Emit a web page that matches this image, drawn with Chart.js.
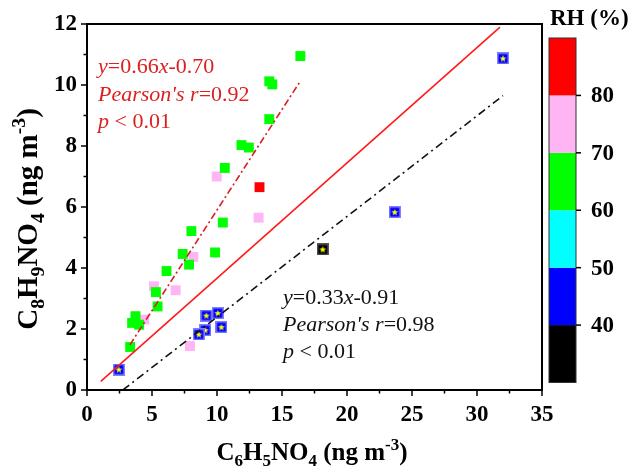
<!DOCTYPE html>
<html>
<head>
<meta charset="utf-8">
<script src="https://cdn.jsdelivr.net/npm/chart.js@4.4.0/dist/chart.umd.min.js"></script>
<style>
body { margin: 0; background: #fff; }
#wrap { width: 635px; height: 467px; }
</style>
</head>
<body>
<div id="wrap"><canvas id="chart" width="635" height="467"></canvas></div>
<script>
// points by RH class (x = C6H5NO4, y = C8H9NO4, ng m-3)
const greenX = [16.41, 14.02, 14.25, 14.02, 11.88, 12.45, 10.6, 10.45, 8.03, 7.36, 7.85, 9.85, 6.12, 5.3, 5.43, 3.73, 3.47, 4.01, 3.32];
const greenY = [10.95, 10.12, 10.02, 8.88, 8.03, 7.95, 7.28, 5.49, 5.21, 4.46, 4.11, 4.51, 3.9, 3.21, 2.74, 2.42, 2.2, 2.14, 1.41];
const pinkX = [9.98, 13.2, 8.18, 5.15, 6.82, 4.4, 7.92];
const pinkY = [7.0, 5.65, 4.36, 3.4, 3.27, 2.31, 1.44];
const redX = [13.27];
const redY = [6.65];
const blueX = [2.45, 9.18, 10.06, 9.1, 8.6, 10.34, 32.0, 23.67];
const blueY = [0.67, 2.44, 2.52, 1.96, 1.82, 2.06, 10.87, 5.83];
const blackX = [18.13];
const blackY = [4.61];

// fit lines, end points
const fitAllX = [1.06, 31.77];
const fitAllY = [0.28, 11.9];
const fitHighX = [3.3, 16.4];
const fitHighY = [1.48, 10.12];
const fitLowX = [2.76, 32.0];
const fitLowY = [0.0, 9.65];

// colour bar
const rhLevels = [30, 40, 50, 60, 70, 80, 90];
const rhColors = ['#000000', '#0000ff', '#00ffff', '#00ff00', '#ffb4f4', '#ff0000'];
const rhTicks = [40, 50, 60, 70, 80];

const xTicks = [0, 5, 10, 15, 20, 25, 30, 35];
const yTicks = [0, 2, 4, 6, 8, 10, 12];

const FONT = "'Liberation Serif', 'Times New Roman', serif";

function pts(xs, ys) {
    return xs.map((x, i) => ({ x: x, y: ys[i] }));
}

function starMarker(fill, edge) {
    const c = document.createElement('canvas');
    c.width = 12; c.height = 12;
    const g = c.getContext('2d');
    g.fillStyle = edge;
    g.fillRect(0, 0, 12, 12);
    g.fillStyle = fill;
    g.fillRect(1.5, 1.5, 9, 9);
    g.fillStyle = '#ffff00';
    g.beginPath();
    for (let i = 0; i < 10; i++) {
        const r = i % 2 === 0 ? 3.6 : 1.5;
        const a = -Math.PI / 2 + i * Math.PI / 5;
        const px = 6 + r * Math.cos(a), py = 6.3 + r * Math.sin(a);
        i === 0 ? g.moveTo(px, py) : g.lineTo(px, py);
    }
    g.closePath();
    g.fill();
    return c;
}

// text with italics / sub / sup parts
function drawRich(ctx, x, y, parts, size, bold, color, dry) {
    let cx = x;
    ctx.fillStyle = color;
    ctx.textBaseline = 'alphabetic';
    ctx.textAlign = 'left';
    parts.forEach(([t, s]) => {
        let fs = size, dy = 0, it = false;
        if (s === 'sub') { fs = size * 0.68; dy = size * 0.25; }
        if (s === 'sup') { fs = size * 0.68; dy = -size * 0.42; }
        if (s === 'i') it = true;
        ctx.font = (it ? 'italic ' : '') + (bold ? 'bold ' : '') + fs + 'px ' + FONT;
        if (!dry) ctx.fillText(t, cx, y + dy);
        cx += ctx.measureText(t).width;
    });
    return cx - x;
}

const xTitle = [['C', 'n'], ['6', 'sub'], ['H', 'n'], ['5', 'sub'], ['NO', 'n'], ['4', 'sub'], [' (ng m', 'n'], ['-3', 'sup'], [')', 'n']];
const yTitle = [['C', 'n'], ['8', 'sub'], ['H', 'n'], ['9', 'sub'], ['NO', 'n'], ['4', 'sub'], [' (ng m', 'n'], ['-3', 'sup'], [')', 'n']];

const redNote = [
    [['y', 'i'], ['=0.66', 'n'], ['x', 'i'], ['-0.70', 'n']],
    [["Pearson's r", 'i'], ['=0.92', 'n']],
    [['p', 'i'], [' < 0.01', 'n']]
];
const blackNote = [
    [['y', 'i'], ['=0.33', 'n'], ['x', 'i'], ['-0.91', 'n']],
    [["Pearson's r", 'i'], ['=0.98', 'n']],
    [['p', 'i'], [' < 0.01', 'n']]
];

const decor = {
    id: 'decor',
    afterDraw(chart) {
        const ctx = chart.ctx;
        const { left, right, top, bottom } = chart.chartArea;
        const xs = chart.scales.x, ys = chart.scales.y;
        ctx.save();

        // frame
        ctx.strokeStyle = '#000';
        ctx.lineWidth = 2;
        ctx.strokeRect(left, top, right - left, bottom - top);

        // outward ticks, majors + minors
        ctx.lineWidth = 1.5;
        ctx.beginPath();
        for (let v = 0; v <= 35; v += 2.5) {
            const px = xs.getPixelForValue(v);
            ctx.moveTo(px, bottom);
            ctx.lineTo(px, bottom + (v % 5 === 0 ? 6 : 3.5));
        }
        for (let v = 0; v <= 12; v += 1) {
            const py = ys.getPixelForValue(v);
            ctx.moveTo(left, py);
            ctx.lineTo(left - (v % 2 === 0 ? 6 : 3.5), py);
        }
        ctx.stroke();

        // axis titles
        const w = drawRich(ctx, 0, 0, xTitle, 25, true, '#000', true);
        drawRich(ctx, 312 - w / 2, 460, xTitle, 25, true, '#000');
        ctx.save();
        ctx.translate(37, 219);
        ctx.rotate(-Math.PI / 2);
        const wy = drawRich(ctx, 0, 0, yTitle, 29, true, '#000', true);
        drawRich(ctx, -wy / 2, 0, yTitle, 29, true, '#000');
        ctx.restore();

        // notes
        redNote.forEach((line, i) => drawRich(ctx, 98, 73 + i * 27.5, line, 22, false, '#dc1f1f'));
        blackNote.forEach((line, i) => drawRich(ctx, 283, 304 + i * 27, line, 22, false, '#111'));

        // colour bar
        const bx = 549, bw = 27, bTop = 38, bBot = 382.5;
        const lo = rhLevels[0], hi = rhLevels[rhLevels.length - 1];
        const rhPix = v => bBot - (v - lo) / (hi - lo) * (bBot - bTop);
        rhColors.forEach((c, i) => {
            ctx.fillStyle = c;
            ctx.fillRect(bx, rhPix(rhLevels[i + 1]), bw, rhPix(rhLevels[i]) - rhPix(rhLevels[i + 1]));
        });
        ctx.strokeStyle = '#333';
        ctx.lineWidth = 1;
        ctx.strokeRect(bx, bTop, bw, bBot - bTop);
        ctx.lineWidth = 1.5;
        ctx.strokeStyle = '#000';
        ctx.fillStyle = '#000';
        ctx.font = 'bold 23px ' + FONT;
        ctx.textBaseline = 'middle';
        ctx.textAlign = 'left';
        rhTicks.forEach(v => {
            const py = rhPix(v);
            ctx.beginPath();
            ctx.moveTo(bx + bw, py);
            ctx.lineTo(bx + bw + 5, py);
            ctx.stroke();
            ctx.fillText(String(v), 591, py + 1);
        });
        ctx.textBaseline = 'alphabetic';
        ctx.font = 'bold 23px ' + FONT;
        ctx.fillText('RH (%)', 550, 25);

        ctx.restore();
    }
};

const lineDs = (xs, ys, color, dash, width) => ({
    type: 'line',
    data: pts(xs, ys),
    borderColor: color,
    borderWidth: width,
    borderDash: dash,
    pointRadius: 0,
    fill: false,
    showLine: true
});

const sqDs = (xs, ys, color) => ({
    data: pts(xs, ys),
    pointStyle: 'rect',
    pointRadius: 7,
    pointBorderWidth: 0,
    pointBackgroundColor: color,
    pointBorderColor: color
});

const starDs = (xs, ys, img) => ({
    data: pts(xs, ys),
    pointStyle: img,
    pointRadius: 6
});

new Chart(document.getElementById('chart'), {
    type: 'scatter',
    data: {
        datasets: [
            lineDs(fitAllX, fitAllY, '#ff1a1a', [], 1.6),
            lineDs(fitHighX, fitHighY, '#d42020', [7, 3, 2, 3], 1.6),
            lineDs(fitLowX, fitLowY, '#111', [8, 4, 2, 4], 1.6),
            starDs(blueX, blueY, starMarker('#0000ff', '#8080ff')),
            starDs(blackX, blackY, starMarker('#000000', '#555555')),
            sqDs(redX, redY, '#ff0000'),
            sqDs(greenX, greenY, '#00ff00'),
            sqDs(pinkX, pinkY, '#ffb4f4')
        ]
    },
    options: {
        responsive: false,
        animation: false,
        layout: { padding: { top: 24, right: 93, left: 0, bottom: 0 } },
        plugins: { legend: { display: false }, tooltip: { enabled: false } },
        scales: {
            x: {
                type: 'linear',
                min: 0, max: 35,
                afterBuildTicks: s => { s.ticks = xTicks.map(v => ({ value: v })); },
                afterFit: s => { s.height = 77; },
                grid: { display: false, drawTicks: false },
                border: { display: false },
                ticks: { color: '#000', padding: 11, maxRotation: 0, font: { family: FONT, size: 23, weight: 'bold' } }
            },
            y: {
                min: 0, max: 12,
                afterBuildTicks: s => { s.ticks = yTicks.map(v => ({ value: v })); },
                afterFit: s => { s.width = 87; },
                grid: { display: false, drawTicks: false },
                border: { display: false },
                ticks: { color: '#000', padding: 10, font: { family: FONT, size: 23, weight: 'bold' } }
            }
        }
    },
    plugins: [decor]
});
</script>
</body>
</html>
